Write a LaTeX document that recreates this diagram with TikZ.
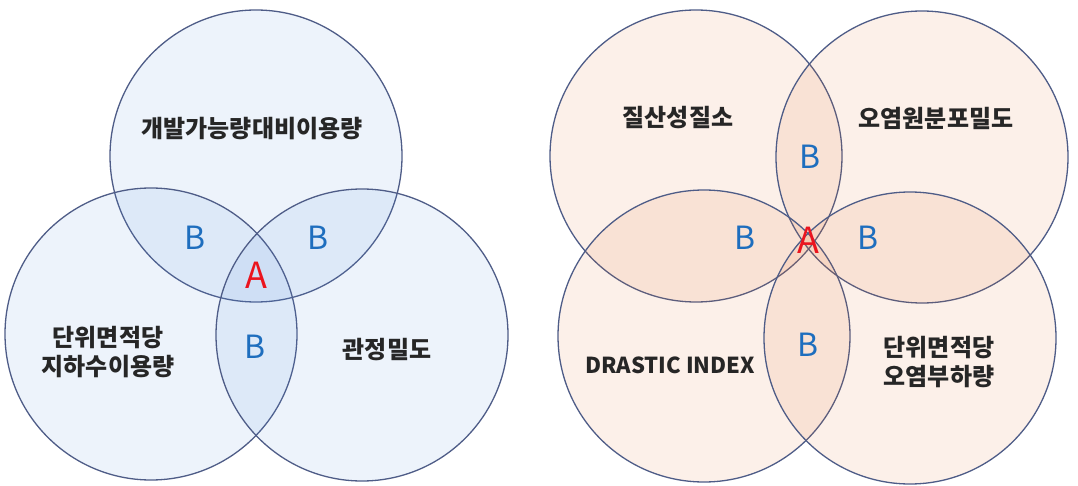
\documentclass[tikz,border=0pt]{standalone}
\usepackage{fontspec}
\setmainfont{Noto Sans CJK KR}
\usepackage{tikz}
\usetikzlibrary{positioning}
\usepackage{xcolor}

\definecolor{ringline}{RGB}{78,92,135}
\definecolor{bluefill}{RGB}{80,140,220}
\definecolor{peachfill}{RGB}{225,105,35}
\definecolor{labelblue}{RGB}{30,110,190}
\definecolor{labelred}{RGB}{235,20,30}

\begin{document}
\begin{tikzpicture}[x=1pt, y=-1pt,
    ring/.style={circle, draw=ringline, line width=1.3pt, fill opacity=0.1, minimum size=292pt, inner sep=0pt},
    bluering/.style={ring, fill=bluefill},
    peachring/.style={ring, fill=peachfill},
    lbl/.style={font=\bfseries\fontsize{24}{29}\selectfont, align=center, text=black!85},
    bmark/.style={font=\fontsize{32}{32}\selectfont, text=labelblue},
    amark/.style={font=\fontsize{36}{36}\selectfont, text=labelred}
]
\useasboundingbox (0,0) rectangle (1078,486);
% left: three circles
\node[bluering] (gtop) at (256,156) {};
\node[bluering] (gleft) at (151,334) {};
\node[bluering] (gright) at (362,335) {};
\node[lbl] (gtoptxt) at (252,129) {개발가능량대비이용량};
\node[lbl] (glefttxt) at (108,352) {단위면적당\\지하수이용량};
\node[lbl] (grighttxt) at (387,350) {관정밀도};
\node[bmark] (gb1) at (195,238) {B};
\node[bmark] (gb2) at (318,238) {B};
\node[bmark] (gb3) at (255,347) {B};
\node[amark] (ga) at (256,275) {A};
% right: four circles
\node[peachring] (ptl) at (696,156) {};
\node[peachring] (ptr) at (922,157) {};
\node[peachring] (pbl) at (704,336) {};
\node[peachring] (pbr) at (910,338) {};
\node[lbl] (ptltxt) at (678,118) {질산성질소};
\node[lbl] (ptrtxt) at (936,118) {오염원분포밀도};
\node[lbl, font=\bfseries\fontsize{22}{26}\selectfont] (pbltxt) at (670,365) {DRASTIC INDEX};
\node[lbl] (pbrtxt) at (939,362) {단위면적당\\오염부하량};
\node[bmark] (pb1) at (810,157) {B};
\node[bmark] (pb2) at (745,238) {B};
\node[bmark] (pb3) at (868,238) {B};
\node[bmark] (pb4) at (808,345) {B};
\node[amark] (pa) at (808,240) {A};
\end{tikzpicture}
\end{document}
